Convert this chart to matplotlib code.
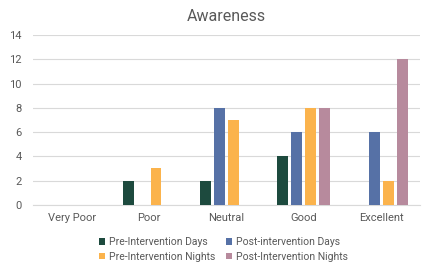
import numpy as np
import matplotlib.pyplot as plt

plt.rcParams['font.family'] = ['Roboto', 'DejaVu Sans']

# Datos
categorias = ['Very Poor', 'Poor', 'Neutral', 'Good', 'Excellent']
series = ['Pre-Intervention Days', 'Post-intervention Days',
          'Pre-Intervention Nights', 'Post-Intervention Nights']
pre_dias = [0, 2, 2, 4, 0]
post_dias = [0, 0, 8, 6, 6]
pre_noches = [0, 3, 7, 8, 2]
post_noches = [0, 0, 0, 8, 12]
colores = ['#1D4A3E', '#5671A6', '#FBB34C', '#B78A9D']

valores = [pre_dias, post_dias, pre_noches, post_noches]

fig = plt.figure(figsize=(4.22, 2.71), dpi=100)
ax = fig.add_axes([0.078, 0.244, 0.917, 0.627])

x = np.arange(len(categorias))
ancho = 0.14
paso = 0.18
barras = []
for i, (v, c, s) in enumerate(zip(valores, colores, series)):
    b = ax.bar(x + (i - 1.5) * paso, v, width=ancho, color=c, label=s, zorder=3)
    barras.append(b)

ax.set_xlim(-0.5, 4.5)
ax.set_ylim(0, 14)
ax.set_yticks(range(0, 15, 2))
ax.set_xticks(x)
ax.set_xticklabels(categorias)
ax.grid(axis='y', color='#D9D9D9', linewidth=0.8, zorder=0)
for lado in ['top', 'right', 'left']:
    ax.spines[lado].set_visible(False)
ax.spines['bottom'].set_color('#D9D9D9')
ax.tick_params(axis='both', length=0, colors='#595959', labelsize=8)
ax.tick_params(axis='x', pad=6)
ax.tick_params(axis='y', pad=8)

ax.set_title('Awareness', fontsize=11.5, color='#595959', pad=10)

# orden de la leyenda por filas
orden = [0, 2, 1, 3]
fig.legend([barras[i] for i in orden], [series[i] for i in orden],
           loc='lower center', bbox_to_anchor=(0.53, 0.0), ncol=2, frameon=False,
           fontsize=7.5, handlelength=0.6, handleheight=0.6, handletextpad=0.4,
           columnspacing=1.0, labelspacing=0.4, labelcolor='#595959')

plt.savefig('out.png', dpi=100)
